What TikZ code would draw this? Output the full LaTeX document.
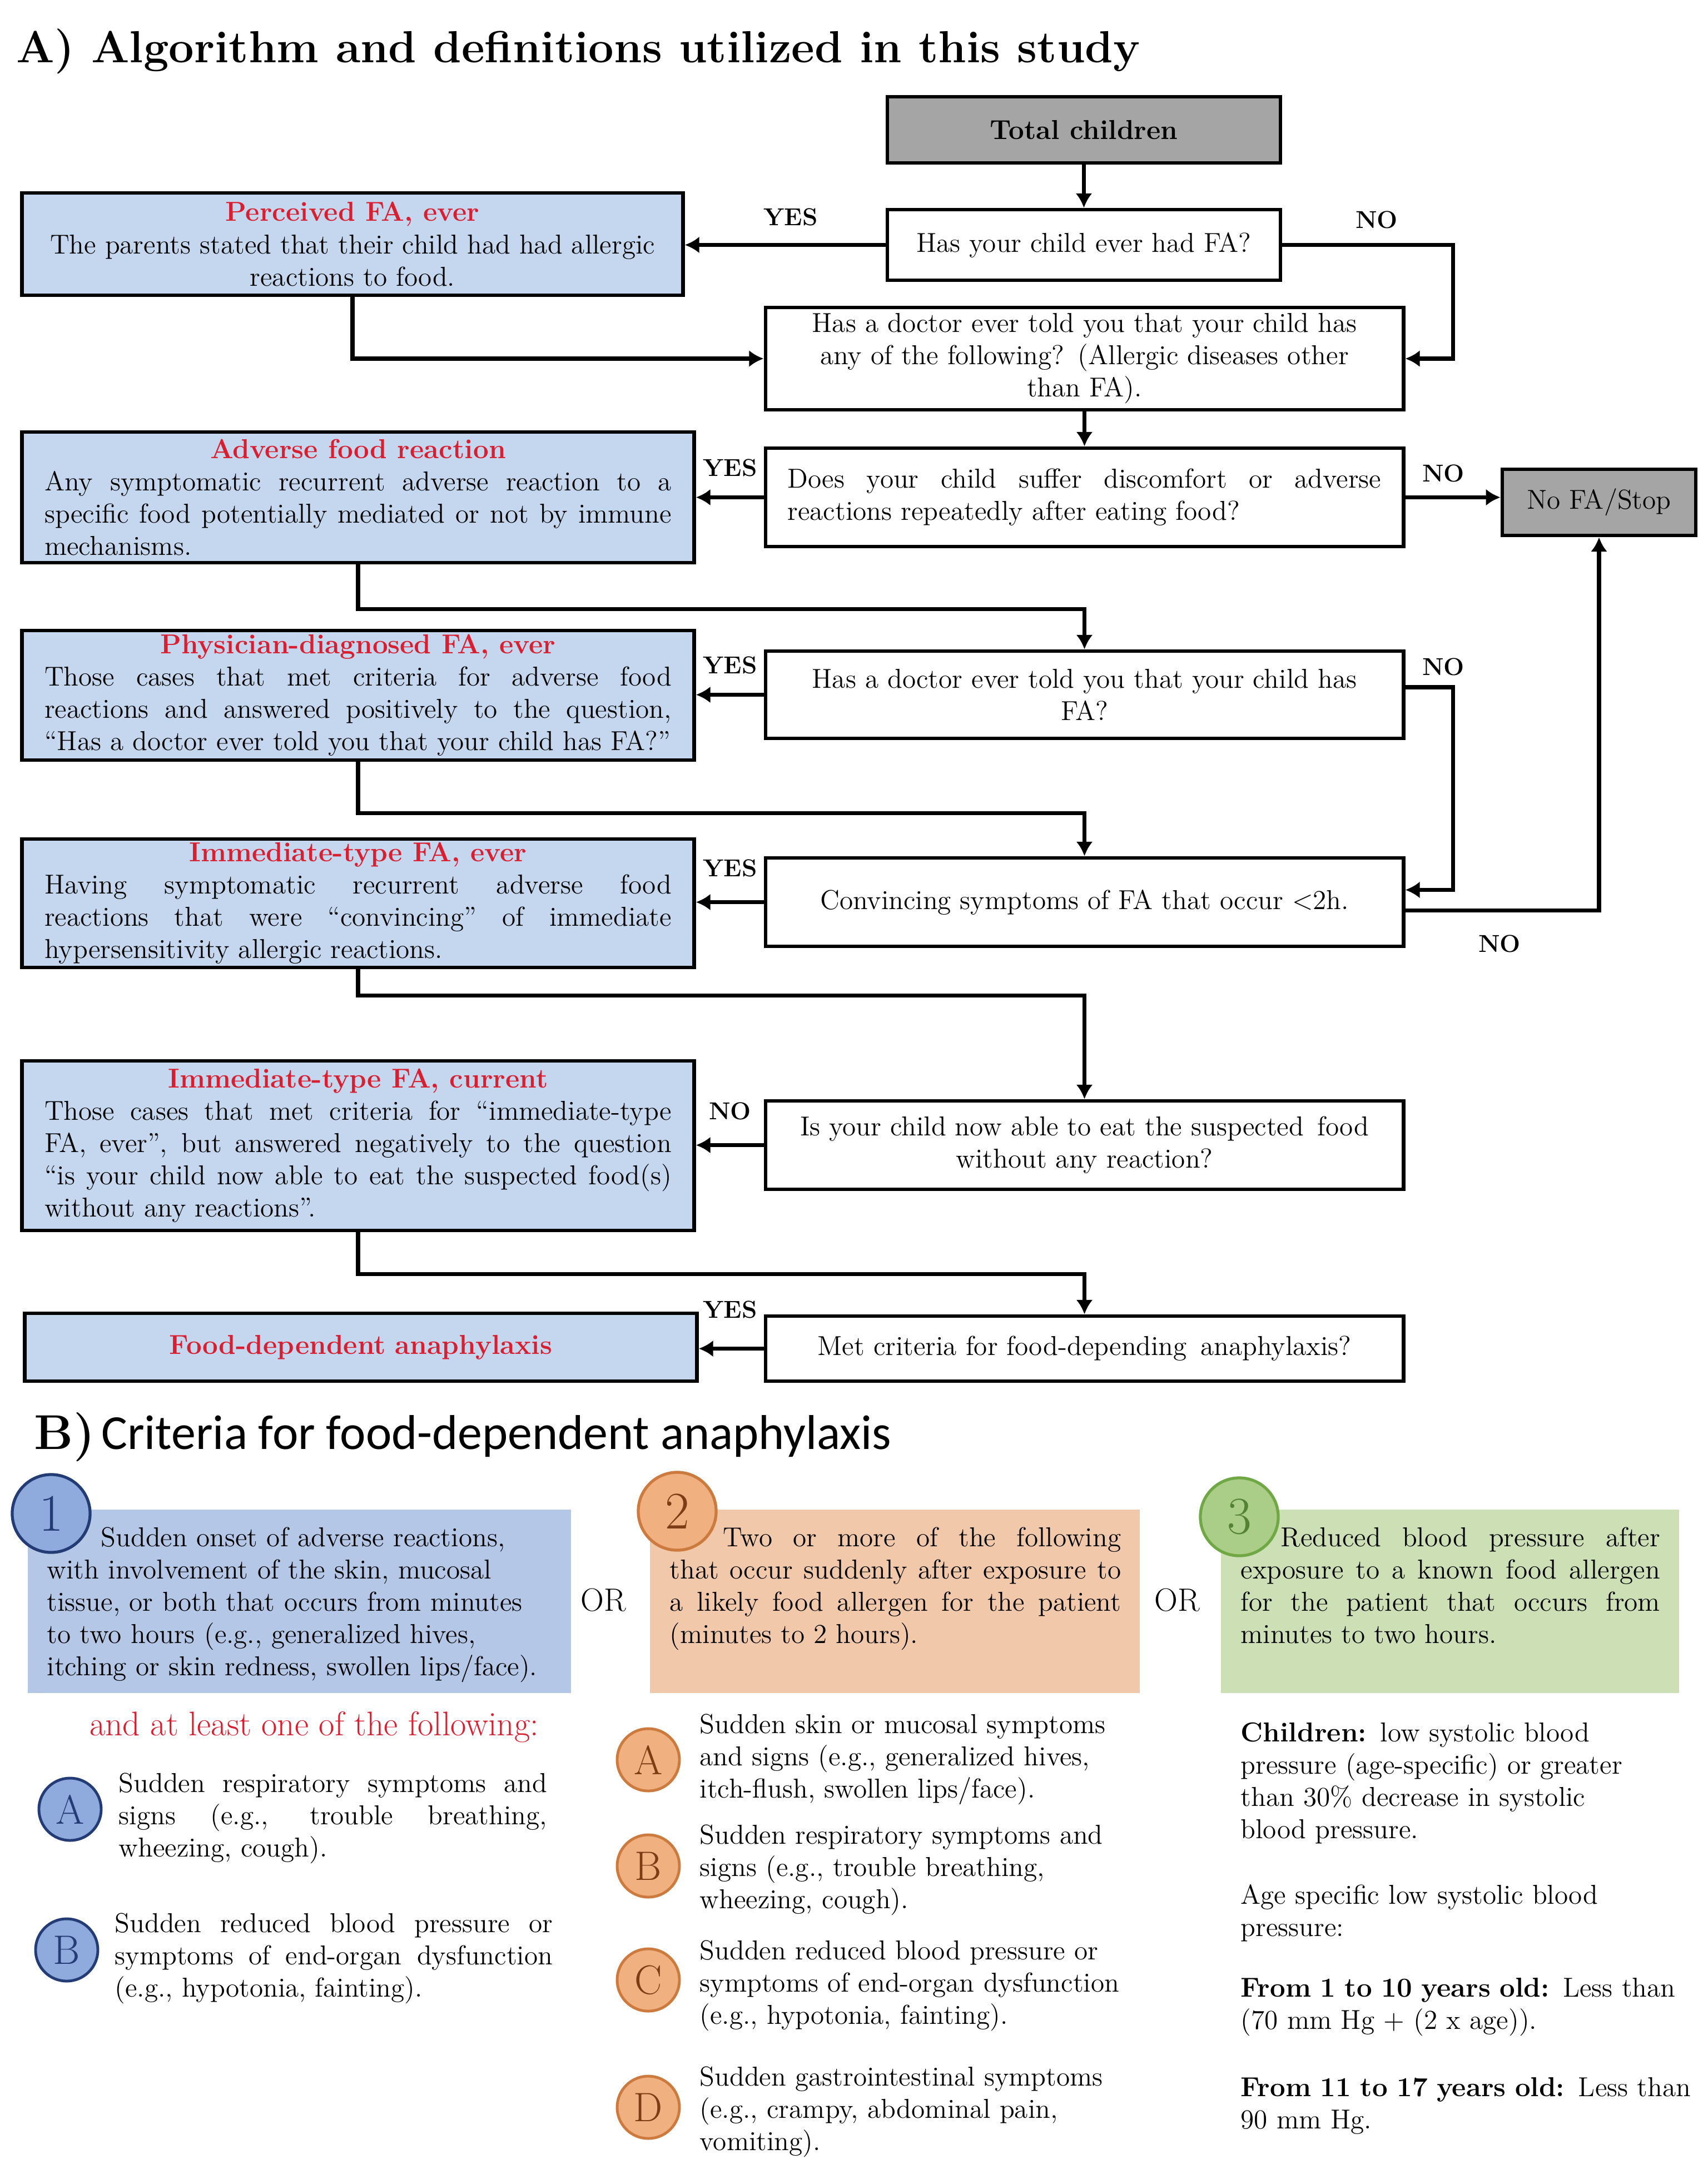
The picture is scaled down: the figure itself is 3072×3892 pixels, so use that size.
\documentclass[tikz,border=0pt]{standalone}
\usepackage{fontspec}
\newfontfamily\carlito{Carlito}
\usetikzlibrary{arrows.meta,calc}
\setlength{\parindent}{0pt}
\definecolor{boxblue}{RGB}{197,215,238}
\definecolor{titlered}{RGB}{218,30,48}
\definecolor{cgray}{RGB}{165,165,165}
\definecolor{bBlue}{RGB}{180,199,231}
\definecolor{cBlue}{RGB}{143,170,220}
\definecolor{dBlue}{RGB}{36,60,118}
\definecolor{bOrange}{RGB}{241,201,170}
\definecolor{cOrange}{RGB}{240,176,128}
\definecolor{dOrange}{RGB}{205,122,62}
\definecolor{tOrange}{RGB}{125,60,20}
\definecolor{bGreen}{RGB}{205,223,181}
\definecolor{cGreen}{RGB}{170,206,136}
\definecolor{dGreen}{RGB}{112,168,70}
\definecolor{tGreen}{RGB}{84,130,53}
\newcommand\jl[1]{\makebox[\linewidth][s]{#1}\par}
\newcommand\redt[1]{{\centering\color{titlered}\bfseries #1\par}}
\newcommand\bodyfont{\fontsize{14}{16.5}\selectfont}
\begin{document}
\begin{tikzpicture}[x=0.01cm,y=-0.01cm,
  every node/.style={inner sep=0pt},
  qbox/.style={draw, line width=1.8pt, fill=white, align=center, font=\bodyfont, minimum width=11.47cm},
  dbox/.style={draw, line width=1.9pt, fill=boxblue, minimum width=12.08cm, text width=11.27cm, align=justify, font=\bodyfont},
  gbox/.style={draw, line width=1.8pt, fill=cgray, font=\bodyfont, align=center},
  conn/.style={line width=2.2pt, -{Latex[length=0.26cm,width=0.3cm]}},
  yn/.style={font=\fontsize{12.5}{14}\selectfont\bfseries},
  ptxt/.style={anchor=north west, font=\bodyfont},
  numc/.style={circle, line width=1.5pt, minimum size=1.4cm, font=\fontsize{27}{27}\selectfont},
  letb/.style={circle, line width=1.4pt, draw=dBlue, fill=cBlue, text=dBlue, minimum size=1.12cm, font=\fontsize{21}{21}\selectfont},
  leto/.style={circle, line width=1.4pt, draw=dOrange, fill=cOrange, text=tOrange, minimum size=1.12cm, font=\fontsize{21}{21}\selectfont},
  bigt/.style={font=\fontsize{16.5}{18}\selectfont}]
\useasboundingbox (0,0) rectangle (3072,3892);
\fill[white] (0,0) rectangle (3072,3892);

% ---------- Part A ----------
\node[anchor=base west, font=\fontsize{23}{28}\selectfont\bfseries] (titleA) at (29,112) {A) Algorithm and definitions utilized in this study};

\node[gbox, minimum width=7.07cm, minimum height=1.19cm] (total) at (1949.5,233.5) {\bfseries Total children};
\node[qbox, minimum width=7.07cm, minimum height=1.27cm] (q1) at (1949.5,440.5) {Has your child ever had FA?};
\node[dbox, minimum width=11.88cm, text width=11.1cm, minimum height=1.84cm] (perc) at (634,439) {\redt{Perceived FA, ever}{\centering The parents stated that their child had had allergic\\reactions to food.\par}};
\node[qbox, minimum height=1.84cm] (q2) at (1950.5,645) {Has a doctor ever told you that your child has\\any of the following?\enspace(Allergic diseases other\\than FA).};
\node[qbox, minimum height=1.77cm, text width=10.67cm, align=justify] (q3) at (1950.5,894.5) {\jl{Does your child suffer discomfort or adverse}reactions repeatedly after eating food?};
\node[dbox, minimum height=2.35cm] (adv) at (644,894.5) {\redt{Adverse food reaction}\jl{Any symptomatic recurrent adverse reaction to a}\jl{specific food potentially mediated or not by immune}mechanisms.};
\node[gbox, minimum width=3.48cm, minimum height=1.19cm] (nofa) at (2876,903.5) {No FA/Stop};
\node[qbox, minimum height=1.57cm] (q4) at (1950.5,1249.5) {Has a doctor ever told you that your child has\\FA?};
\node[dbox, minimum height=2.33cm] (phys) at (644,1250.5) {\redt{Physician-diagnosed FA, ever}\jl{Those cases that met criteria for adverse food}\jl{reactions and answered positively to the question,}``Has a doctor ever told you that your child has FA?''};
\node[qbox, minimum height=1.59cm] (q5) at (1950.5,1622.5) {Convincing symptoms of FA that occur {<}2h.};
\node[dbox, minimum height=2.31cm] (imev) at (644,1624.5) {\redt{Immediate-type FA, ever}\jl{Having symptomatic recurrent adverse food}\jl{reactions that were ``convincing'' of immediate}hypersensitivity allergic reactions.};
\node[qbox, minimum height=1.59cm] (q6) at (1950.5,2059.5) {Is your child now able to eat the suspected\enspace food\\without any reaction?};
\node[dbox, minimum height=3.05cm] (imcur) at (644,2060.5) {\redt{Immediate-type FA, current}\jl{Those cases that met criteria for ``immediate-type}\jl{FA, ever'', but answered negatively to the question}\jl{``is your child now able to eat the suspected food(s)}without any reactions''.};
\node[qbox, minimum height=1.17cm] (q7) at (1950.5,2425.5) {Met criteria for food-depending\enspace anaphylaxis?};
\node[dbox, minimum height=1.22cm, align=center] (fda) at (649,2423) {\color{titlered}\bfseries Food-dependent anaphylaxis};

% connectors
\draw[conn] (total) -- (q1);
\draw[conn] (q1.west) -- (q1.west -| perc.east);
\draw[conn] (q1.east) -| ([xshift=0.86cm]q2.east) -- (q2.east);
\draw[conn] (perc.south) |- (q2.west);
\draw[conn] (q2) -- (q3);
\draw[conn] (q3.west) -- (q3.west -| adv.east);
\draw[conn] (q3.east) -- (q3.east -| nofa.west);
\draw[conn] (adv.south) -- ++(0,80) -| (q4.north);
\draw[conn] (q4.west) -- (q4.west -| phys.east);
\draw[conn] ([yshift=0.135cm]q4.east) -| ([xshift=0.86cm,yshift=0.22cm]q5.east) -- ([yshift=0.22cm]q5.east);
\draw[conn] (phys.south) -- ++(0,92) -| (q5.north);
\draw[conn] (q5.west) -- (q5.west -| imev.east);
\draw[conn] ([yshift=-0.15cm]q5.east) -| (nofa.south);
\draw[conn] (imev.south) -- ++(0,47) -| (q6.north);
\draw[conn] (q6.west) -- (q6.west -| imcur.east);
\draw[conn] (imcur.south) -- ++(0,75) -| (q7.north);
\draw[conn] (q7.west) -- (q7.west -| fda.east);

% YES / NO labels
\node[yn] (y1) at (1422,390) {YES};
\node[yn] (n1l) at (2476,395) {NO};
\node[yn] (y2) at (1313,841) {YES};
\node[yn] (n2l) at (2596,851) {NO};
\node[yn] (y3) at (1313,1196) {YES};
\node[yn] (n3l) at (2596,1199) {NO};
\node[yn] (y4) at (1313,1561) {YES};
\node[yn] (n4l) at (2697,1697) {NO};
\node[yn] (n5l) at (1313,1998) {NO};
\node[yn] (y5) at (1313,2355) {YES};

% ---------- Part B ----------
\node[anchor=base west] (titleB) at (61,2606) {{\fontsize{25}{30}\selectfont\bfseries B)} {\carlito\fontsize{25}{30}\selectfont Criteria for food-dependent anaphylaxis}};

\node[fill=bBlue, minimum width=9.77cm, minimum height=3.30cm] (c1box) at (538.5,2880) {};
\node[fill=bOrange, minimum width=8.81cm, minimum height=3.30cm] (c2box) at (1609.5,2880) {};
\node[fill=bGreen, minimum width=8.24cm, minimum height=3.30cm] (c3box) at (2608,2880) {};

\node[ptxt, text width=9.1cm, align=left] (c1txt) at (84,2746) {\hspace*{0.97cm}Sudden onset of adverse reactions,\\with involvement of the skin, mucosal\\tissue, or both that occurs from minutes\\to two hours (e.g., generalized hives,\\itching or skin redness, swollen lips/face).};
\node[ptxt, text width=8.11cm, align=justify] (c2txt) at (1204,2746) {\jl{\hspace*{0.96cm}Two or more of the following}\jl{that occur suddenly after exposure to}\jl{a likely food allergen for the patient}(minutes to 2 hours).};
\node[ptxt, text width=7.54cm, align=justify] (c3txt) at (2231,2746) {\jl{\hspace*{0.72cm}Reduced blood pressure after}\jl{exposure to a known food allergen}\jl{for the patient that occurs from}minutes to two hours.};

\node[numc, draw=dBlue, fill=cBlue, text=dBlue] (num1) at (92,2722) {1};
\node[numc, draw=dOrange, fill=cOrange, text=tOrange] (num2) at (1218,2718) {2};
\node[numc, draw=dGreen, fill=cGreen, text=tGreen] (num3) at (2229,2728) {3};

\node[bigt] (or1) at (1085,2878) {OR};
\node[bigt] (or2) at (2117,2878) {OR};

% column 1
\node[font=\fontsize{17.5}{19}\selectfont, text=titlered] (atleast) at (565,3106) {and at least one of the following:};
\node[letb] (la1) at (126,3254) {A};
\node[ptxt, text width=7.7cm, align=justify] (ta1) at (213,3188) {\jl{Sudden respiratory symptoms and}\jl{signs (e.g., trouble breathing,}wheezing, cough).};
\node[letb] (lb1) at (120,3507) {B};
\node[ptxt, text width=7.87cm, align=justify] (tb1) at (206,3440) {\jl{Sudden reduced blood pressure or}\jl{symptoms of end-organ dysfunction}(e.g., hypotonia, fainting).};

% column 2
\node[leto] (la2) at (1166,3165) {A};
\node[ptxt, text width=7.9cm, align=left] (ta2) at (1258,3082) {Sudden skin or mucosal symptoms\\and signs (e.g., generalized hives,\\itch-flush, swollen lips/face).};
\node[leto] (lb2) at (1166,3356) {B};
\node[ptxt, text width=7.9cm, align=left] (tb2) at (1258,3281) {Sudden respiratory symptoms and\\signs (e.g., trouble breathing,\\wheezing, cough).};
\node[leto] (lc2) at (1166,3561) {C};
\node[ptxt, text width=7.9cm, align=left] (tc2) at (1258,3489) {Sudden reduced blood pressure or\\symptoms of end-organ dysfunction\\(e.g., hypotonia, fainting).};
\node[leto] (ld2) at (1166,3790) {D};
\node[ptxt, text width=7.9cm, align=left] (td2) at (1258,3716) {Sudden gastrointestinal symptoms\\(e.g., crampy, abdominal pain,\\vomiting).};

% column 3
\node[ptxt, text width=8.3cm, align=left] (t3a) at (2231,3097) {\textbf{Children:} low systolic blood\\pressure (age-specific) or greater\\than 30\% decrease in systolic\\blood pressure.};
\node[ptxt, text width=8.3cm, align=left] (t3b) at (2231,3389) {Age specific low systolic blood\\pressure:};
\node[ptxt, text width=8.3cm, align=left] (t3c) at (2231,3557) {\textbf{From 1 to 10 years old:} Less than\\(70 mm Hg + (2 x age)).};
\node[ptxt, text width=8.3cm, align=left] (t3d) at (2231,3736) {\textbf{From 11 to 17 years old:} Less than\\90 mm Hg.};
\end{tikzpicture}
\end{document}
